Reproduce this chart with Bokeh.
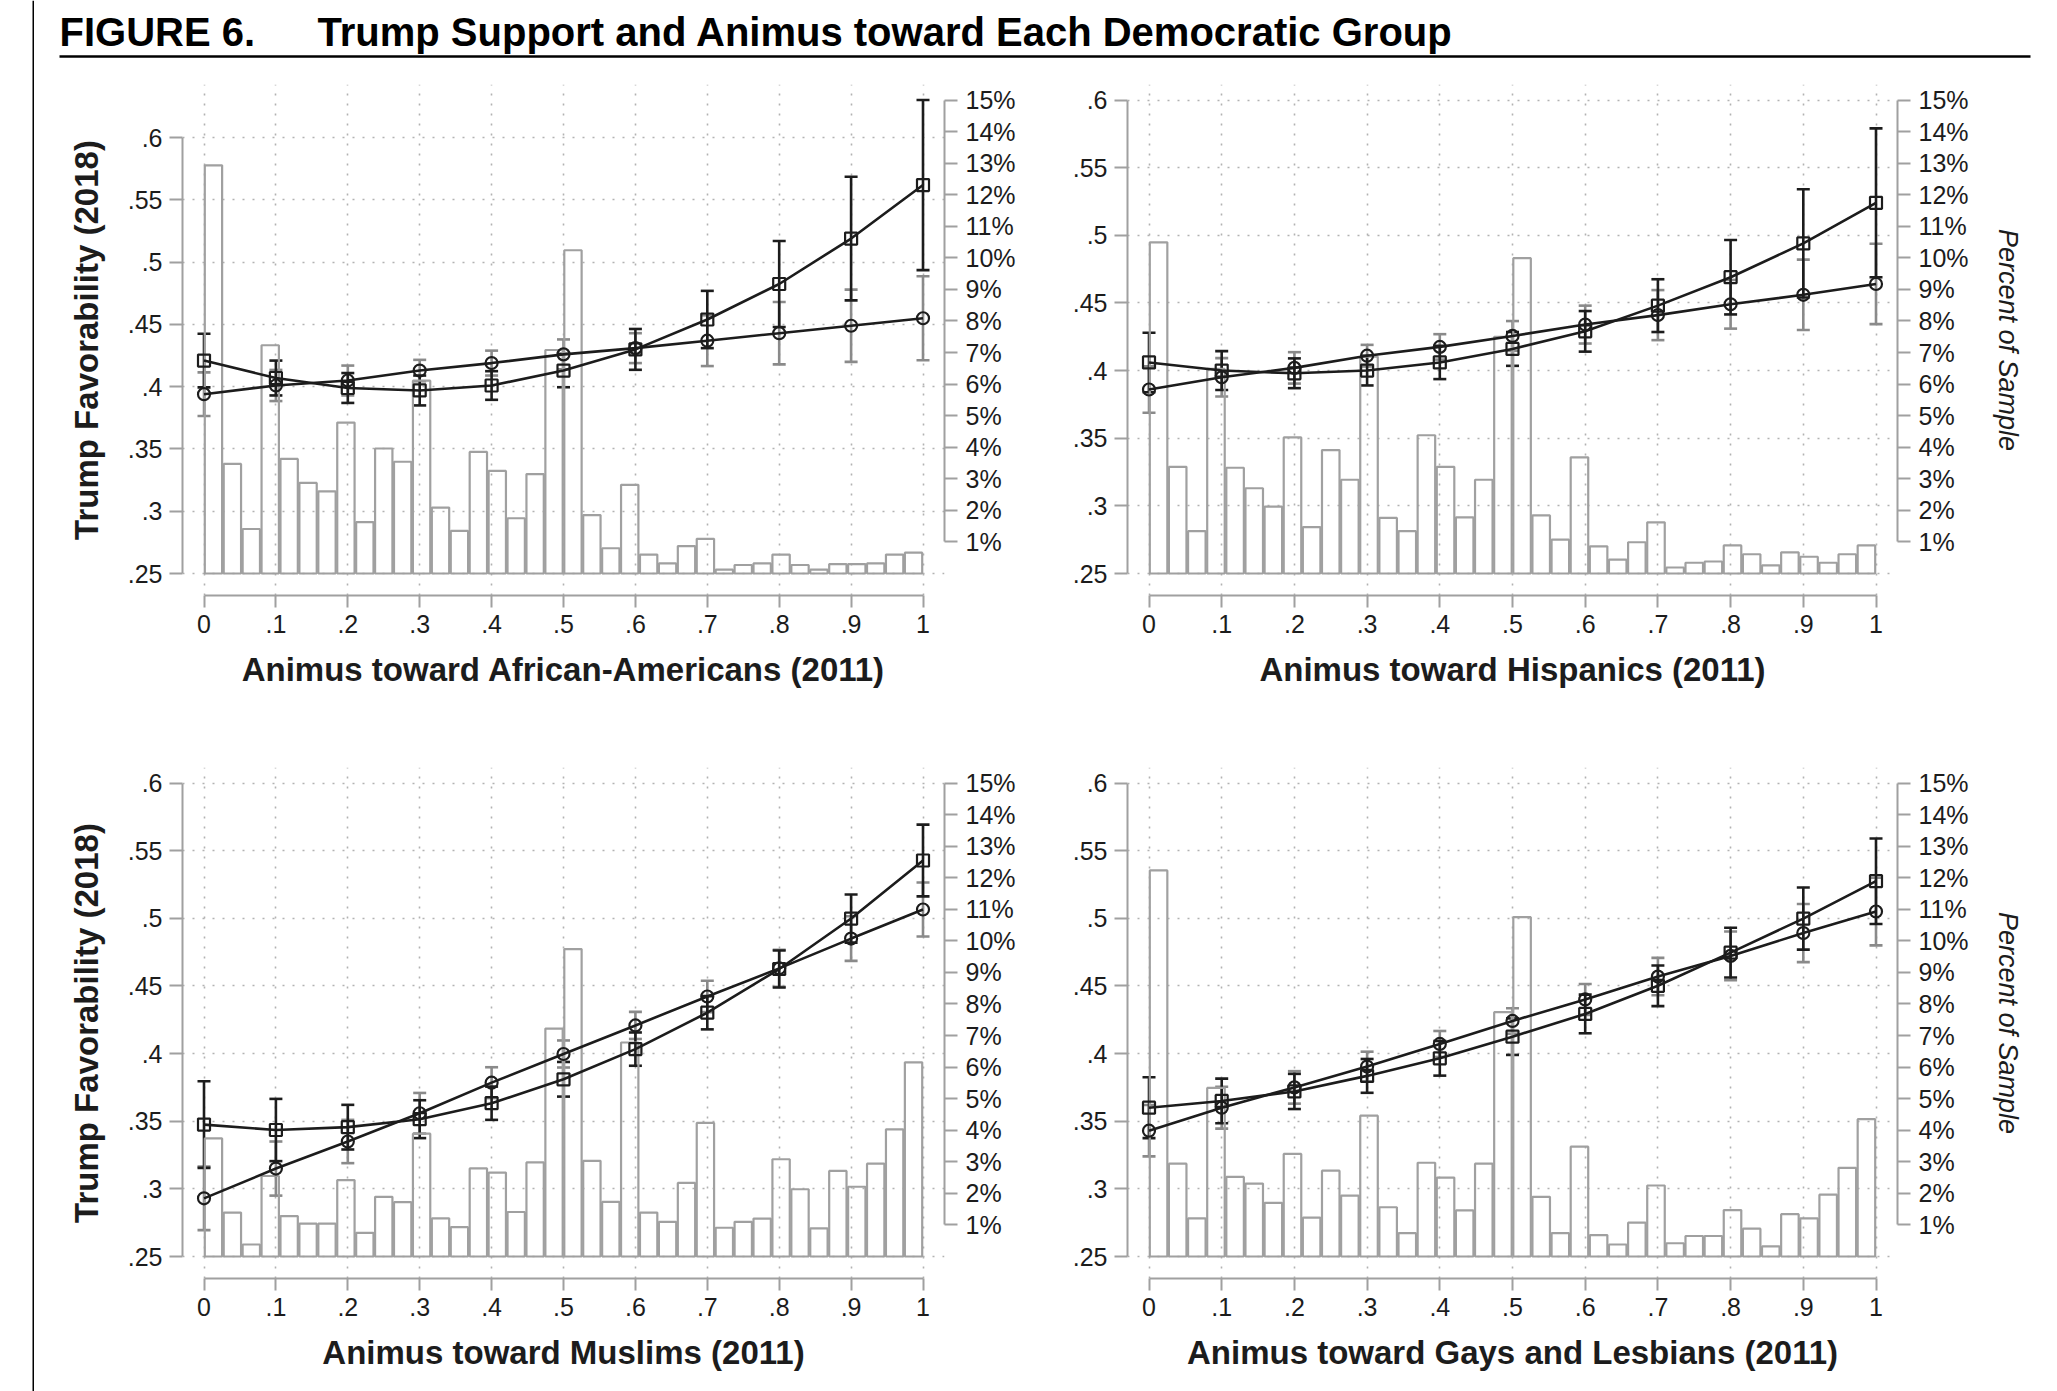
import numpy as np
from bokeh.plotting import figure
from bokeh.models import (Range1d, LinearAxis, FixedTicker, Whisker, TeeHead,
                          ColumnDataSource, Span)
from bokeh.layouts import row, column
from bokeh.embed import file_html
from bokeh.resources import INLINE
from bokeh.core.properties import value

# ---------------------------------------------------------------- data
animus = [0, 0.1, 0.2, 0.3, 0.4, 0.5, 0.6, 0.7, 0.8, 0.9, 1]
x_tick_labels = ["0", ".1", ".2", ".3", ".4", ".5", ".6", ".7", ".8", ".9", "1"]
y_ticks = [0.25, 0.3, 0.35, 0.4, 0.45, 0.5, 0.55, 0.6]
y_tick_labels = [".25", ".3", ".35", ".4", ".45", ".5", ".55", ".6"]
pct_ticks = [1, 2, 3, 4, 5, 6, 7, 8, 9, 10, 11, 12, 13, 14, 15]
pct_tick_labels = ["1%", "2%", "3%", "4%", "5%", "6%", "7%", "8%", "9%", "10%",
                   "11%", "12%", "13%", "14%", "15%"]
N_BINS = 38

groups = ["African-Americans", "Hispanics", "Muslims", "Gays and Lesbians"]

# square-marker series: mean and half-width of the interval
sq_aa = [0.421, 0.407, 0.399, 0.397, 0.401, 0.413, 0.430, 0.454, 0.4825, 0.519, 0.562]
sq_aa_err = [0.0215, 0.014, 0.012, 0.012, 0.0115, 0.0134, 0.0164, 0.023, 0.0345, 0.0496, 0.0683]
sq_his = [0.406, 0.400, 0.398, 0.400, 0.406, 0.416, 0.429, 0.448, 0.469, 0.494, 0.524]
sq_his_err = [0.022, 0.0144, 0.011, 0.011, 0.0123, 0.0125, 0.015, 0.0195, 0.0275, 0.040, 0.055]
sq_mus = [0.3475, 0.3435, 0.3456, 0.3515, 0.3633, 0.381, 0.4033, 0.4302, 0.4625, 0.4998, 0.5427]
sq_mus_err = [0.032, 0.023, 0.0165, 0.014, 0.0123, 0.0128, 0.0123, 0.0123, 0.0137, 0.0178, 0.0265]
sq_gay = [0.360, 0.365, 0.372, 0.3835, 0.3965, 0.4125, 0.4293, 0.4501, 0.4746, 0.4998, 0.5274]
sq_gay_err = [0.0225, 0.0165, 0.013, 0.0125, 0.0128, 0.0135, 0.0143, 0.015, 0.0184, 0.023, 0.0316]

# circle-marker series
ci_aa = [0.394, 0.401, 0.405, 0.413, 0.419, 0.426, 0.431, 0.437, 0.443, 0.449, 0.455]
ci_aa_err = [0.0175, 0.0125, 0.012, 0.0086, 0.010, 0.012, 0.012, 0.0204, 0.025, 0.029, 0.0337]
ci_his = [0.386, 0.395, 0.402, 0.411, 0.4175, 0.4256, 0.434, 0.441, 0.449, 0.456, 0.464]
ci_his_err = [0.0172, 0.0142, 0.0116, 0.008, 0.0094, 0.011, 0.014, 0.0185, 0.018, 0.026, 0.0297]
ci_mus = [0.293, 0.315, 0.335, 0.3559, 0.3785, 0.3997, 0.4208, 0.4422, 0.463, 0.485, 0.5065]
ci_mus_err = [0.0235, 0.020, 0.016, 0.015, 0.0114, 0.010, 0.010, 0.0116, 0.0137, 0.0165, 0.020]
ci_gay = [0.343, 0.360, 0.375, 0.3904, 0.4071, 0.4241, 0.440, 0.4569, 0.4722, 0.4891, 0.505]
ci_gay_err = [0.019, 0.0155, 0.012, 0.011, 0.0096, 0.0094, 0.0114, 0.0138, 0.018, 0.0215, 0.025]

# percent of sample in each of the 38 animus bins
hist_aa = [12.93, 3.47, 1.41, 7.23, 3.63, 2.87, 2.60, 4.78, 1.63, 3.96, 3.54, 6.11, 2.09,
           1.35, 3.85, 3.25, 1.75, 3.15, 7.08, 10.24, 1.85, 0.80, 2.81, 0.60, 0.32, 0.87,
           1.10, 0.12, 0.27, 0.32, 0.60, 0.27, 0.12, 0.30, 0.30, 0.32, 0.60, 0.66]
hist_his = [10.49, 3.38, 1.34, 6.48, 3.35, 2.70, 2.12, 4.31, 1.47, 3.91, 2.97, 6.87, 1.76,
            1.34, 4.38, 3.38, 1.78, 2.97, 7.50, 9.99, 1.84, 1.07, 3.68, 0.86, 0.44, 0.99,
            1.62, 0.19, 0.34, 0.38, 0.89, 0.61, 0.26, 0.67, 0.53, 0.34, 0.61, 0.89]
hist_mus = [3.74, 1.39, 0.38, 2.55, 1.28, 1.04, 1.04, 2.42, 0.75, 1.89, 1.72, 3.89, 1.21,
            0.93, 2.79, 2.66, 1.41, 2.98, 7.22, 9.74, 3.03, 1.73, 6.78, 1.39, 1.10, 2.33,
            4.23, 0.91, 1.10, 1.20, 3.08, 2.13, 0.89, 2.71, 2.21, 2.94, 4.03, 6.15]
hist_gay = [12.23, 2.94, 1.21, 5.34, 2.52, 2.31, 1.70, 3.25, 1.23, 2.72, 1.93, 4.46, 1.56,
            0.74, 2.97, 2.50, 1.46, 2.94, 7.74, 10.75, 1.89, 0.74, 3.48, 0.68, 0.38, 1.07,
            2.25, 0.42, 0.65, 0.65, 1.47, 0.88, 0.32, 1.34, 1.21, 1.96, 2.81, 4.35]

fig_label = "FIGURE 6."
fig_title = "Trump Support and Animus toward Each Democratic Group"
y_label = "Trump Favorability (2018)"
pct_label = "Percent of Sample"

# ---------------------------------------------------------------- style
FONT = "Liberation Sans"
INK = "#1c1c1c"
AXIS_GRAY = "#a0a0a0"
BAR_GRAY = "#a0a0a0"
GRID_GRAY = "#b2b2b2"
ERR_GRAY = "#8a8a8a"

FRAME_H = 511
PAD_TOP = 15.5      # px between top of data region and frame top
PAD_BOTTOM = 22.0   # px between the .25 baseline and the x axis line
X_PAD_PX = 21.5
BAR_GAP = 0.0011


def span_range(lo, hi):
    per = (hi - lo) / (FRAME_H - PAD_TOP - PAD_BOTTOM)
    return Range1d(lo - PAD_BOTTOM * per, hi + PAD_TOP * per)


def style_axis(ax):
    ax.axis_line_color = AXIS_GRAY
    ax.axis_line_width = 2
    ax.major_tick_line_color = AXIS_GRAY
    ax.major_tick_line_width = 2
    ax.major_tick_in = 0
    ax.major_tick_out = 13
    ax.minor_tick_line_color = None
    ax.major_label_text_font = FONT
    ax.major_label_text_font_size = "25px"
    ax.major_label_text_color = INK
    ax.major_label_standoff = 7
    ax.axis_label_text_font = FONT
    ax.axis_label_text_color = INK


def panel(group, sq, sq_err, ci, ci_err, hist, left_label, right_label,
          width, frame_w, mb_left, mb_top, mb_bottom, height):
    y_hi = max([0.6] + [m + e for m, e in zip(sq, sq_err)] + [m + e for m, e in zip(ci, ci_err)])
    xpad = X_PAD_PX / (frame_w - 2 * X_PAD_PX)
    p = figure(width=width, height=height, output_backend="svg", toolbar_location=None,
               x_range=Range1d(-xpad, 1 + xpad), y_range=span_range(0.25, y_hi),
               min_border_left=mb_left, min_border_right=width - mb_left - frame_w,
               min_border_top=mb_top, min_border_bottom=mb_bottom,
               background_fill_color="white", border_fill_color="white")
    p.outline_line_color = None

    # x axis
    xa = p.xaxis[0]
    style_axis(xa)
    xa.ticker = FixedTicker(ticks=animus)
    xa.major_label_overrides = dict(zip(animus, x_tick_labels))
    xa.bounds = (0, 1)
    xa.major_tick_out = 12
    xa.axis_label = f"Animus toward {group} (2011)"
    xa.axis_label_text_font_size = "33px"
    xa.axis_label_text_font_style = "bold"
    xa.axis_label_standoff = 15

    # left axis
    ya = p.yaxis[0]
    style_axis(ya)
    ya.ticker = FixedTicker(ticks=y_ticks)
    ya.major_label_overrides = dict(zip(y_ticks, y_tick_labels))
    ya.bounds = (0.25, 0.6)
    if left_label:
        ya.axis_label = y_label
        ya.axis_label_text_font_size = "33px"
        ya.axis_label_text_font_style = "bold"
        ya.axis_label_standoff = 20

    # right axis: share of sample
    p.extra_y_ranges = {"pct": span_range(0, 15)}
    ra = LinearAxis(y_range_name="pct")
    style_axis(ra)
    ra.ticker = FixedTicker(ticks=pct_ticks)
    ra.major_label_overrides = dict(zip(pct_ticks, pct_tick_labels))
    ra.bounds = (1, 15)
    ra.major_label_standoff = 8
    if right_label:
        ra.axis_label = pct_label
        ra.axis_label_text_font_size = "27px"
        ra.axis_label_text_font_style = "italic"
        ra.axis_label_standoff = 21
    p.add_layout(ra, "right")

    # dotted grid
    p.xgrid.ticker = FixedTicker(ticks=animus)
    p.ygrid.ticker = FixedTicker(ticks=y_ticks)
    for g in (p.xgrid, p.ygrid):
        g.grid_line_color = GRID_GRAY
        g.grid_line_width = 1.6
        g.grid_line_dash = "2 8"

    # histogram
    edges = np.linspace(0, 1, N_BINS + 1)
    p.quad(left=edges[:-1] + BAR_GAP, right=edges[1:] - BAR_GAP, bottom=0, top=hist,
           y_range_name="pct", fill_color=None, line_color=BAR_GRAY, line_width=2.2)

    # intervals
    for mean, err, color in ((ci, ci_err, ERR_GRAY), (sq, sq_err, INK)):
        src = ColumnDataSource(dict(
            x=animus,
            lower=[m - e for m, e in zip(mean, err)],
            upper=[m + e for m, e in zip(mean, err)]))
        w = Whisker(source=src, base="x", lower="lower", upper="upper",
                    line_color=color, line_width=2.6,
                    upper_head=TeeHead(size=13, line_color=color, line_width=2.6),
                    lower_head=TeeHead(size=13, line_color=color, line_width=2.6))
        p.add_layout(w)

    # series
    p.line(animus, ci, line_color=INK, line_width=2.6)
    p.line(animus, sq, line_color=INK, line_width=2.6)
    p.scatter(animus, ci, marker="circle", size=12, fill_color=None,
              line_color=INK, line_width=2.2)
    p.scatter(animus, sq, marker="square", size=12, fill_color=None,
              line_color=INK, line_width=2.2)
    return p


# ---------------------------------------------------------------- layout
STRIP_W = 34
LEFT_W = 1006
RIGHT_W = 1017
TOP_H = 640
BOT_H = 691
TITLE_H = 60

p1 = panel(groups[0], sq_aa, sq_aa_err, ci_aa, ci_aa_err, hist_aa, True, False,
           LEFT_W, 762, 148, 24, TOP_H - 24 - FRAME_H, TOP_H)
p2 = panel(groups[1], sq_his, sq_his_err, ci_his, ci_his_err, hist_his, False, True,
           RIGHT_W, 770, 87, 24, TOP_H - 24 - FRAME_H, TOP_H)
p3 = panel(groups[2], sq_mus, sq_mus_err, ci_mus, ci_mus_err, hist_mus, True, False,
           LEFT_W, 762, 148, 67, BOT_H - 67 - FRAME_H, BOT_H)
p4 = panel(groups[3], sq_gay, sq_gay_err, ci_gay, ci_gay_err, hist_gay, False, True,
           RIGHT_W, 770, 87, 67, BOT_H - 67 - FRAME_H, BOT_H)

# heading with rule
head_w = LEFT_W + RIGHT_W
head = figure(width=head_w, height=TITLE_H, output_backend="svg", toolbar_location=None,
              x_range=Range1d(0, head_w), y_range=Range1d(TITLE_H, 0),
              x_axis_location=None, y_axis_location=None,
              min_border=0, background_fill_color="white", border_fill_color="white")
head.outline_line_color = None
head.grid.visible = False
head.text(x=[25], y=[31], text=[fig_label], text_font=value(FONT),
          text_font_size="40px", text_font_style="bold", text_color="black",
          text_baseline="alphabetic", text_align="left")
head.text(x=[283], y=[31], text=[fig_title], text_font=value(FONT),
          text_font_size="40px", text_font_style="bold", text_color="black",
          text_baseline="alphabetic", text_align="left")
head.segment(x0=[25], y0=[56], x1=[1996], y1=[56], line_color="black", line_width=2.5)

# left margin rule
strip = figure(width=STRIP_W, height=TITLE_H + TOP_H + BOT_H, output_backend="svg",
               toolbar_location=None, x_range=Range1d(0, STRIP_W),
               y_range=Range1d(0, TITLE_H + TOP_H + BOT_H),
               x_axis_location=None, y_axis_location=None, min_border=0,
               background_fill_color="white", border_fill_color="white")
strip.outline_line_color = None
strip.grid.visible = False
strip.add_layout(Span(location=33, dimension="height", line_color="black", line_width=2))

layout = row(strip, column(head, row(p1, p2), row(p3, p4)))

with open("out.html", "w") as f:
    f.write(file_html(layout, INLINE, title="Trump Support and Animus"))
